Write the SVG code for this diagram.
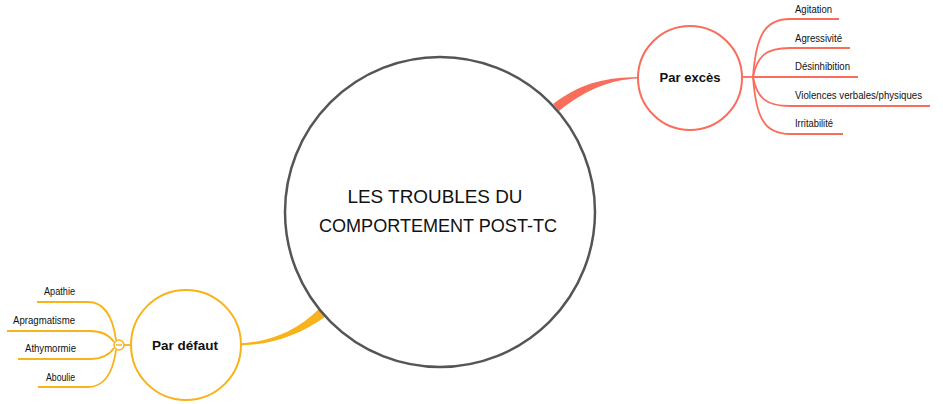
<svg xmlns="http://www.w3.org/2000/svg" width="943" height="404" viewBox="0 0 943 404">
<style>
.t{font-family:"Liberation Sans",Arial,sans-serif;fill:#111}
.leaf{font-size:10px}
.mid{font-size:13px;font-weight:bold}
.main{font-size:19px}
.r{stroke:#F96D5C;fill:none;stroke-width:1.8}
.y{stroke:#F8B21A;fill:none;stroke-width:1.8}
</style>
<rect width="943" height="404" fill="#fff"/>
<g id="connectors">
<path d="M553,104 C585,80 610,78 637,77 L637,78.5 C611,80 588,88 559,111 Z" fill="#F96D5C"/>
<path d="M238,343.5 C270,342 295,332 319,309 L325,317 C298,336 270,345 238,345.5 Z" fill="#F8B21A"/>
<g class="r">
<path d="M743,77 H753"/>
<path d="M753,77 C756,35 765,19 790,19 H839"/>
<path d="M753,77 C757,56 766,48 790,48 H850"/>
<path d="M753,77 H858"/>
<path d="M753,77 C757,98 766,106 790,106 H930"/>
<path d="M753,77 C756,119 765,134 790,134 H843"/>
</g>
<g class="y">
<path d="M124,345 H131"/>
<path d="M37,302 H88 C105,302 113,318 116,340"/>
<path d="M7,331 H90 C104,331 110,336 114,342"/>
<path d="M18,359 H90 C104,359 110,354 114,348"/>
<path d="M38,387 H88 C105,387 113,372 116,350"/>
</g>
</g>
<g id="main">
<circle cx="440" cy="212" r="155" fill="#fff" stroke="#555" stroke-width="2.5"/>
<text class="t main" x="435" y="203" text-anchor="middle" textLength="175" lengthAdjust="spacingAndGlyphs">LES TROUBLES DU</text>
<text class="t main" x="438" y="232" text-anchor="middle" textLength="238" lengthAdjust="spacingAndGlyphs">COMPORTEMENT POST-TC</text>
</g>
<g id="par-exces">
<circle cx="690" cy="78" r="52" fill="#fff" stroke="#F96D5C" stroke-width="2"/>
<text class="t mid" x="690" y="82" text-anchor="middle" textLength="61" lengthAdjust="spacingAndGlyphs">Par excès</text>
</g>
<g id="par-defaut">
<circle cx="186" cy="345" r="55" fill="#fff" stroke="#F8B21A" stroke-width="2"/>
<text class="t mid" x="185" y="350" text-anchor="middle" textLength="66" lengthAdjust="spacingAndGlyphs">Par défaut</text>
</g>
<g id="collapse">
<circle cx="119" cy="345" r="5" fill="#fff" stroke="#F8B21A" stroke-width="1.5"/>
<path d="M116,345 H122" stroke="#F8B21A" stroke-width="1.5"/>
</g>
<g id="leaf-agitation"><text class="t leaf" x="795" y="13" textLength="37" lengthAdjust="spacingAndGlyphs">Agitation</text></g>
<g id="leaf-agressivite"><text class="t leaf" x="795" y="42" textLength="47" lengthAdjust="spacingAndGlyphs">Agressivité</text></g>
<g id="leaf-desinhibition"><text class="t leaf" x="795" y="70" textLength="55" lengthAdjust="spacingAndGlyphs">Désinhibition</text></g>
<g id="leaf-violences"><text class="t leaf" x="795" y="99" textLength="127" lengthAdjust="spacingAndGlyphs">Violences verbales/physiques</text></g>
<g id="leaf-irritabilite"><text class="t leaf" x="795" y="127" textLength="38" lengthAdjust="spacingAndGlyphs">Irritabilité</text></g>
<g id="leaf-apathie"><text class="t leaf" x="75" y="295" text-anchor="end" textLength="31" lengthAdjust="spacingAndGlyphs">Apathie</text></g>
<g id="leaf-apragmatisme"><text class="t leaf" x="75" y="324" text-anchor="end" textLength="62" lengthAdjust="spacingAndGlyphs">Apragmatisme</text></g>
<g id="leaf-athymormie"><text class="t leaf" x="76" y="352" text-anchor="end" textLength="51" lengthAdjust="spacingAndGlyphs">Athymormie</text></g>
<g id="leaf-aboulie"><text class="t leaf" x="75" y="381" text-anchor="end" textLength="29" lengthAdjust="spacingAndGlyphs">Aboulie</text></g>
</svg>
